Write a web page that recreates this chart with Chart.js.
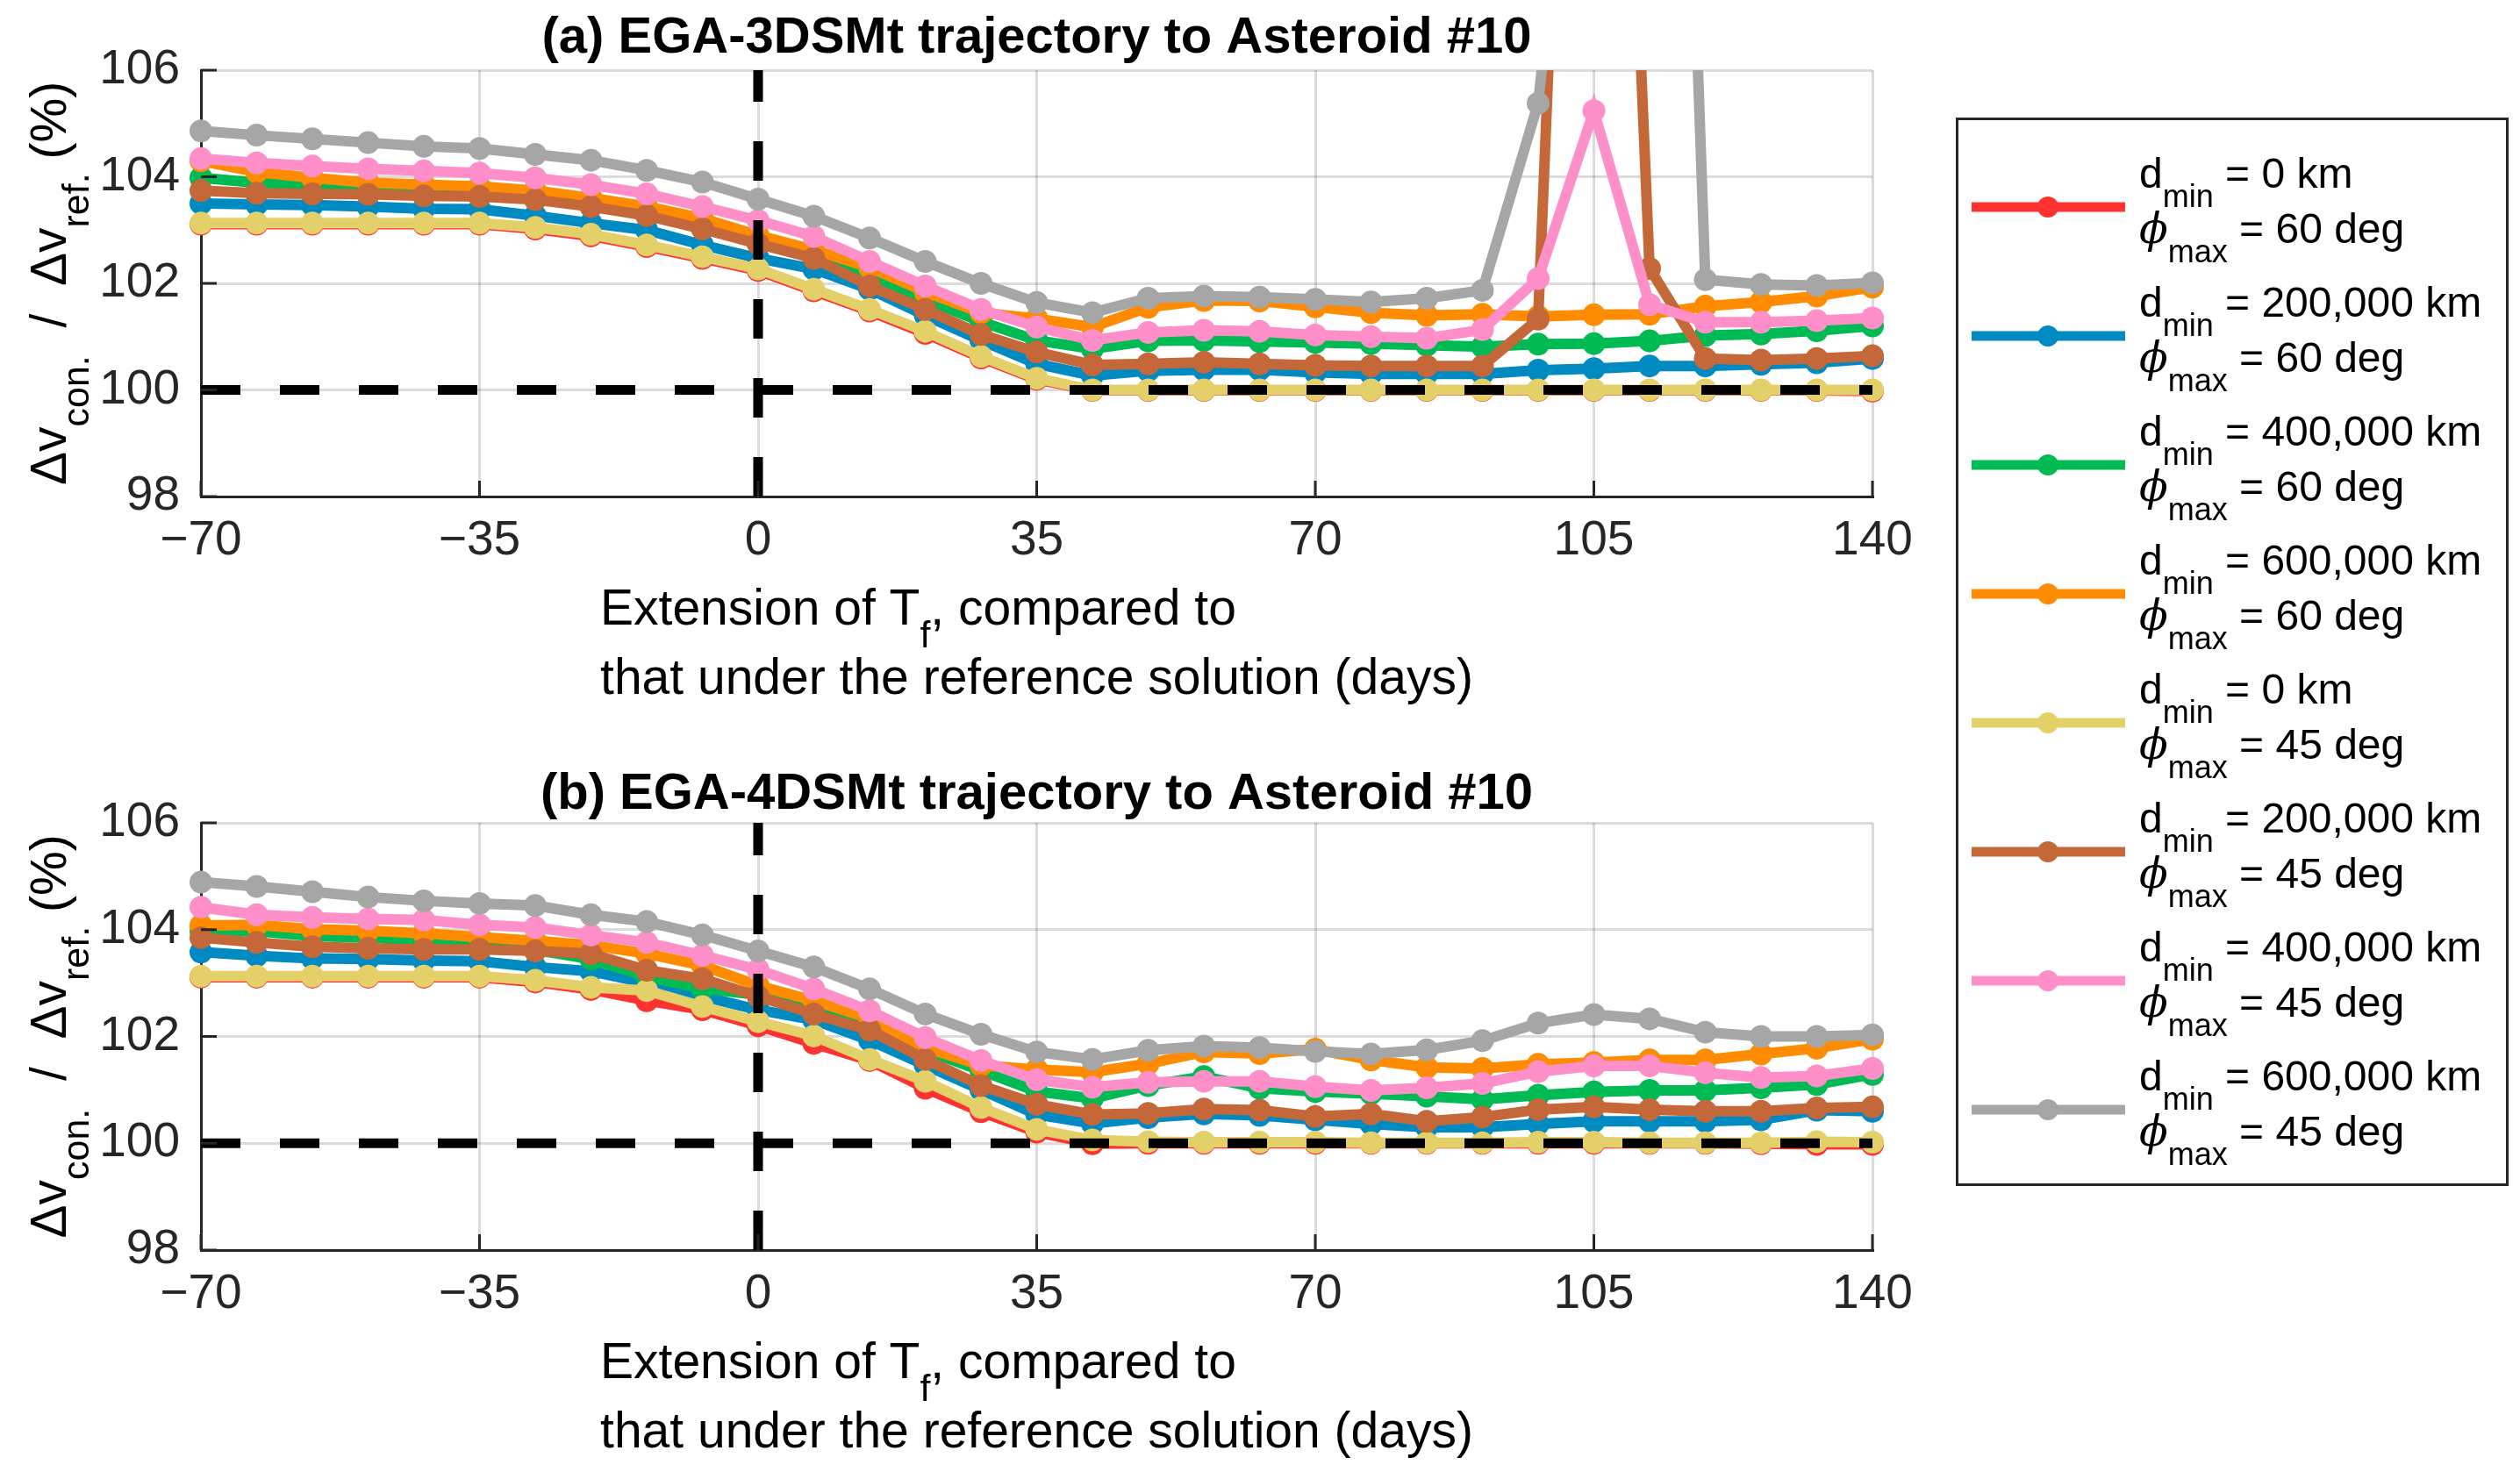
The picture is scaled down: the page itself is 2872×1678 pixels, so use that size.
<!DOCTYPE html>
<html>
<head>
<meta charset="utf-8">
<script src="https://cdn.jsdelivr.net/npm/chart.js@4.4.0/dist/chart.umd.min.js"></script>
<style>
  html, body { margin: 0; padding: 0; background: #fff; }
  body { width: 2872px; height: 1678px; position: relative; overflow: hidden; }
  canvas { position: absolute; }
  #chartA { left: 0; top: 0; }
  #chartB { left: 0; top: 858px; }
  #legend { left: 2229px; top: 134px; }
</style>
</head>
<body>
<canvas id="chartA" width="2362" height="830"></canvas>
<canvas id="chartB" width="2362" height="820"></canvas>
<canvas id="legend" width="630" height="1218"></canvas>
<script>
// x values (days)
const days = [-70, -63, -56, -49, -42, -35, -28, -21, -14, -7, 0, 7, 14, 21, 28, 35, 42, 49, 56, 63, 70, 77, 84, 91, 98, 105, 112, 119, 126, 133, 140];

// legend labels
const dminVals = ['0', '200,000', '400,000', '600,000', '0', '200,000', '400,000', '600,000'];
const phiVals = ['60', '60', '60', '60', '45', '45', '45', '45'];
const colors = ['rgb(255,50,50)', 'rgb(0,138,194)', 'rgb(0,186,84)', 'rgb(255,140,0)', 'rgb(228,208,104)', 'rgb(196,104,58)', 'rgb(255,143,200)', 'rgb(166,166,166)'];

// (a) EGA-3DSMt
const a_red    = [103.11,103.11,103.11,103.11,103.11,103.11,103.02,102.89,102.69,102.47,102.24,101.86,101.48,101.06,100.60,100.20,99.99,99.99,99.99,99.99,99.99,99.99,99.99,99.99,99.99,99.99,99.99,99.99,99.99,99.99,99.98];
const a_blue   = [103.50,103.48,103.47,103.44,103.40,103.39,103.27,103.13,103.00,102.72,102.47,102.27,101.89,101.40,100.93,100.49,100.27,100.36,100.38,100.38,100.33,100.30,100.30,100.30,100.37,100.40,100.45,100.45,100.48,100.51,100.59];
const a_green  = [103.98,103.89,103.84,103.79,103.75,103.72,103.65,103.52,103.30,103.08,102.78,102.52,102.15,101.70,101.28,100.93,100.77,100.92,100.93,100.91,100.89,100.87,100.84,100.81,100.86,100.87,100.92,101.02,101.05,101.11,101.20];
const a_orange = [104.30,104.09,103.98,103.89,103.85,103.82,103.74,103.60,103.44,103.22,102.90,102.63,102.30,101.84,101.45,101.34,101.18,101.55,101.68,101.67,101.56,101.45,101.40,101.42,101.38,101.41,101.42,101.57,101.65,101.76,101.93];
const a_yellow = [103.13,103.13,103.13,103.13,103.13,103.13,103.05,102.92,102.72,102.50,102.27,101.89,101.51,101.10,100.63,100.22,100.00,100.00,100.00,100.00,100.00,100.00,100.00,100.00,100.00,100.00,100.00,100.00,100.00,100.00,100.00];
const a_brown  = [103.74,103.69,103.68,103.67,103.64,103.63,103.57,103.44,103.27,103.02,102.74,102.47,101.95,101.51,101.04,100.71,100.47,100.49,100.52,100.49,100.46,100.45,100.45,100.45,101.33,127.00,102.28,100.59,100.56,100.59,100.64];
const a_pink   = [104.34,104.26,104.20,104.15,104.11,104.07,103.98,103.85,103.68,103.44,103.18,102.88,102.41,101.95,101.51,101.18,100.93,101.08,101.12,101.10,101.03,101.00,100.97,101.13,102.09,105.24,101.60,101.27,101.27,101.30,101.35];
const a_gray   = [104.86,104.78,104.71,104.64,104.57,104.53,104.42,104.31,104.12,103.90,103.58,103.26,102.85,102.41,102.00,101.64,101.45,101.72,101.76,101.74,101.70,101.65,101.72,101.87,105.38,115.00,132.00,102.07,101.98,101.96,102.01];

// (b) EGA-4DSMt
const b_red    = [103.11,103.11,103.11,103.11,103.11,103.11,103.02,102.88,102.67,102.50,102.20,101.87,101.55,101.03,100.59,100.21,99.99,100.00,100.00,100.00,100.00,100.00,100.00,100.00,100.00,100.00,100.00,100.00,99.99,99.98,99.98];
const b_blue   = [103.58,103.51,103.46,103.45,103.42,103.41,103.30,103.22,103.00,102.75,102.50,102.31,101.93,101.46,101.00,100.54,100.37,100.48,100.55,100.52,100.44,100.36,100.30,100.30,100.36,100.41,100.41,100.41,100.44,100.62,100.60];
const b_green  = [103.98,103.97,103.88,103.85,103.79,103.74,103.62,103.45,103.12,102.90,102.78,102.56,102.23,101.74,101.36,100.97,100.84,101.08,101.25,101.03,100.97,100.93,100.88,100.82,100.90,100.96,100.99,100.99,101.04,101.10,101.29];
const b_orange = [104.08,104.09,104.01,103.98,103.93,103.86,103.79,103.71,103.55,103.33,102.95,102.67,102.34,101.79,101.46,101.38,101.33,101.49,101.71,101.68,101.76,101.56,101.42,101.40,101.48,101.51,101.56,101.56,101.67,101.78,101.95];
const b_yellow = [103.13,103.13,103.13,103.13,103.13,103.13,103.05,102.92,102.86,102.56,102.28,102.01,101.57,101.16,100.67,100.26,100.06,100.03,100.02,100.02,100.02,100.01,100.01,100.01,100.02,100.02,100.01,100.01,100.01,100.03,100.02];
const b_brown  = [103.85,103.76,103.68,103.65,103.63,103.63,103.60,103.55,103.24,103.08,102.75,102.42,102.12,101.57,101.08,100.73,100.54,100.56,100.64,100.62,100.50,100.55,100.41,100.49,100.63,100.68,100.63,100.60,100.60,100.66,100.68];
const b_pink   = [104.42,104.28,104.23,104.20,104.18,104.09,104.04,103.90,103.76,103.52,103.25,102.89,102.48,101.98,101.55,101.19,101.05,101.14,101.16,101.16,101.06,100.99,101.04,101.12,101.34,101.45,101.45,101.32,101.23,101.26,101.40];
const b_gray   = [104.89,104.81,104.71,104.61,104.54,104.49,104.45,104.28,104.15,103.90,103.60,103.30,102.89,102.42,102.04,101.71,101.57,101.74,101.82,101.79,101.72,101.67,101.75,101.92,102.25,102.41,102.33,102.08,102.00,102.00,102.03];

const refY = 100;   // dashed horizontal reference
const refX = 0;     // dashed vertical reference

const FONT = '"Liberation Sans", Arial, sans-serif';
const AXIS_COLOR = '#262626';

function drawRuns(ctx, runs, x, y, size, subSize) {
    let cx = x;
    runs.forEach(r => {
        ctx.font = r.font ? r.font : ((r.sub ? subSize : size) + 'px ' + FONT);
        ctx.fillText(r.t, cx, r.sub ? y + size * 0.45 : y);
        cx += ctx.measureText(r.t).width;
    });
    return cx - x;
}
function runsWidth(ctx, runs, size, subSize) {
    let w = 0;
    runs.forEach(r => {
        ctx.font = r.font ? r.font : ((r.sub ? subSize : size) + 'px ' + FONT);
        w += ctx.measureText(r.t).width;
    });
    return w;
}

const yTitleRuns = [{t: 'Δv'}, {t: 'con.', sub: true}, {t: '  /  Δv'}, {t: 'ref.', sub: true}, {t: ' (%)'}];
const xTitle1 = [{t: 'Extension of T'}, {t: 'f', sub: true}, {t: ', compared to'}];
const xTitle2 = [{t: 'that under the reference solution (days)'}];

const decorPlugin = {
    id: 'decor',
    afterDatasetsDraw(chart) {
        const ctx = chart.ctx, area = chart.chartArea;
        const xs = chart.scales.x, ys = chart.scales.y;
        ctx.save();
        ctx.beginPath();
        ctx.rect(area.left, area.top, area.right - area.left, area.bottom - area.top);
        ctx.clip();
        ctx.strokeStyle = '#000';
        ctx.lineWidth = 11;
        ctx.setLineDash([45, 45]);
        const py = ys.getPixelForValue(refY);
        ctx.beginPath();
        ctx.moveTo(area.left, py);
        ctx.lineTo(area.right, py);
        ctx.stroke();
        const px = xs.getPixelForValue(refX);
        ctx.beginPath();
        ctx.moveTo(px, area.bottom);
        ctx.lineTo(px, area.top);
        ctx.stroke();
        ctx.restore();
    },
    afterDraw(chart) {
        const ctx = chart.ctx, area = chart.chartArea;
        const xs = chart.scales.x, ys = chart.scales.y;
        ctx.save();
        // inward tick marks
        ctx.strokeStyle = AXIS_COLOR;
        ctx.lineWidth = 3;
        xs.ticks.forEach(t => {
            const p = xs.getPixelForValue(t.value);
            ctx.beginPath();
            ctx.moveTo(p, area.bottom);
            ctx.lineTo(p, area.bottom - 18);
            ctx.stroke();
        });
        ys.ticks.forEach(t => {
            const p = ys.getPixelForValue(t.value);
            ctx.beginPath();
            ctx.moveTo(area.left, p);
            ctx.lineTo(area.left + 18, p);
            ctx.stroke();
        });
        // panel title, centred over the plot box
        ctx.fillStyle = '#000';
        ctx.textBaseline = 'alphabetic';
        ctx.textAlign = 'center';
        ctx.font = 'bold 58px ' + FONT;
        ctx.fillText(chart.options.panelTitle, (area.left + area.right) / 2, area.top - chart.options.titleGap);
        ctx.textAlign = 'left';
        // axis titles
        const w2 = runsWidth(ctx, xTitle2, 57, 43);
        const left = (area.left + area.right) / 2 - w2 / 2;
        drawRuns(ctx, xTitle1, left, area.bottom + 146, 57, 43);
        drawRuns(ctx, xTitle2, left, area.bottom + 225, 57, 43);

        const wy = runsWidth(ctx, yTitleRuns, 57, 43);
        ctx.translate(75, (area.top + area.bottom) / 2);
        ctx.rotate(-Math.PI / 2);
        drawRuns(ctx, yTitleRuns, -wy / 2, 0, 57, 43);
        ctx.restore();
    }
};

function makeDatasets(series) {
    return series.map((vals, i) => ({
        data: days.map((d, k) => ({x: d, y: vals[k]})),
        borderColor: colors[i],
        backgroundColor: colors[i],
        pointBackgroundColor: colors[i],
        pointBorderWidth: 0,
        pointRadius: 13,
        borderWidth: 12,
        tension: 0,
        order: series.length - i,
        clip: {left: 16, right: 16, top: 0, bottom: 16}
    }));
}

function tickLabel(v) {
    return v < 0 ? '\u2212' + Math.abs(v) : String(v);
}

function makeChart(id, title, series, topPad, titleGap, xHeight) {
    return new Chart(document.getElementById(id).getContext('2d'), {
        type: 'line',
        data: {datasets: makeDatasets(series)},
        options: {
            responsive: false,
            animation: false,
            devicePixelRatio: 1,
            panelTitle: title,
            titleGap: titleGap,
            layout: {padding: {left: 0, right: 228, top: topPad, bottom: 0}},
            plugins: {
                legend: {display: false},
                tooltip: {enabled: false},
                title: {display: false}
            },
            scales: {
                x: {
                    type: 'linear',
                    min: -70,
                    max: 140,
                    ticks: {stepSize: 35, color: AXIS_COLOR, font: {family: FONT, size: 55}, padding: 18, callback: tickLabel},
                    grid: {color: 'rgba(0,0,0,0.14)', lineWidth: 3, drawTicks: false},
                    border: {display: true, color: AXIS_COLOR, width: 3},
                    afterFit(scale) { scale.height = xHeight; }
                },
                y: {
                    min: 98,
                    max: 106,
                    ticks: {stepSize: 2, color: AXIS_COLOR, font: {family: FONT, size: 55}, padding: 24, callback: tickLabel},
                    grid: {color: 'rgba(0,0,0,0.14)', lineWidth: 3, drawTicks: false},
                    border: {display: true, color: AXIS_COLOR, width: 3},
                    afterFit(scale) { scale.width = 229; }
                }
            }
        },
        plugins: [decorPlugin]
    });
}

makeChart('chartA', '(a) EGA-3DSMt trajectory to Asteroid #10',
    [a_red, a_blue, a_green, a_orange, a_yellow, a_brown, a_pink, a_gray],
    80, 20, 264);
makeChart('chartB', '(b) EGA-4DSMt trajectory to Asteroid #10',
    [b_red, b_blue, b_green, b_orange, b_yellow, b_brown, b_pink, b_gray],
    80, 16, 253);

// legend box
(function drawLegend() {
    const c = document.getElementById('legend');
    const ctx = c.getContext('2d');
    ctx.fillStyle = '#fff';
    ctx.fillRect(0, 0, c.width, c.height);
    ctx.strokeStyle = AXIS_COLOR;
    ctx.lineWidth = 3;
    ctx.strokeRect(1.5, 1.5, c.width - 3, c.height - 3);
    const phiFont = 'italic 48px "DejaVu Serif", serif';
    colors.forEach((col, i) => {
        const cy = 102 + 147 * i;
        ctx.strokeStyle = col;
        ctx.lineWidth = 11;
        ctx.beginPath();
        ctx.moveTo(18, cy);
        ctx.lineTo(193, cy);
        ctx.stroke();
        ctx.fillStyle = col;
        ctx.beginPath();
        ctx.arc(105, cy, 12, 0, Math.PI * 2);
        ctx.fill();
        ctx.fillStyle = '#000';
        drawRuns(ctx, [{t: 'd'}, {t: 'min', sub: true}, {t: ' = ' + dminVals[i] + ' km'}], 209, cy - 22, 48, 36);
        drawRuns(ctx, [{t: 'ϕ', font: phiFont}, {t: 'max', sub: true}, {t: ' = ' + phiVals[i] + ' deg'}], 209, cy + 41, 48, 36);
    });
})();
</script>
</body>
</html>
